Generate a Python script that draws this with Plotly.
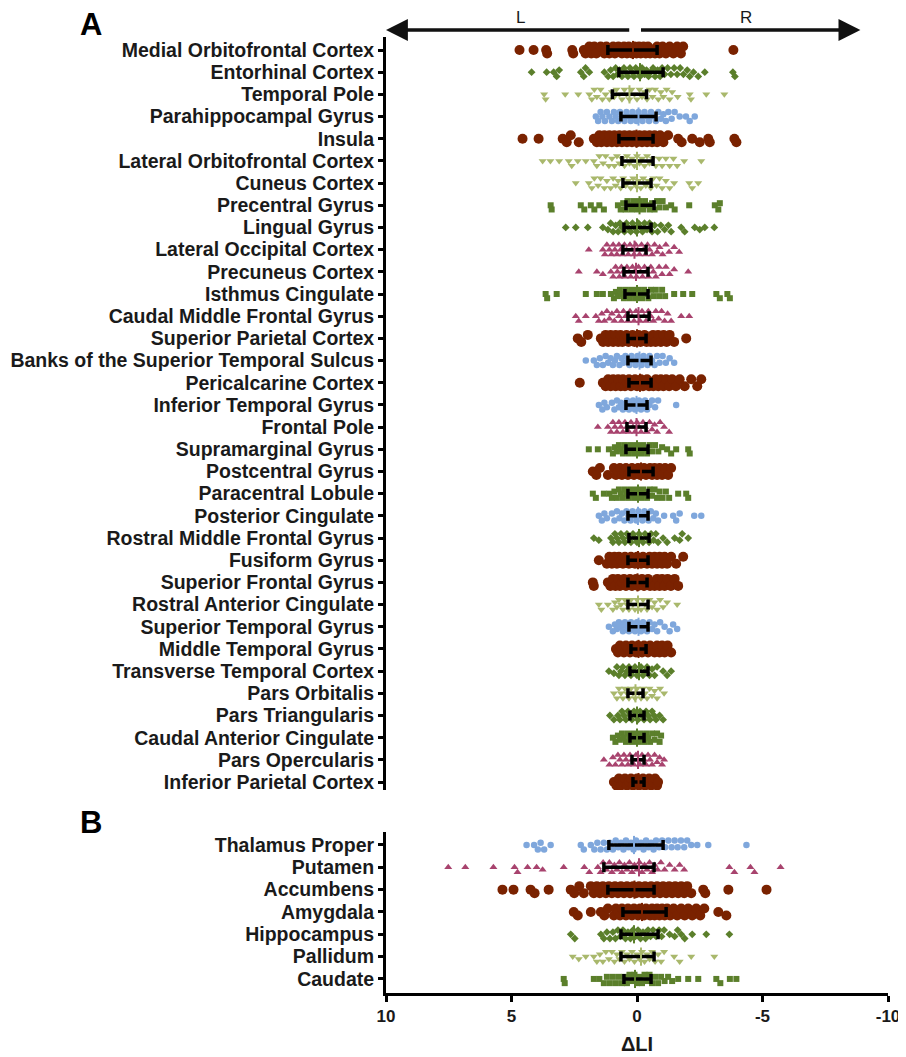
import math
import plotly.graph_objects as go

# ---------------- DATA ----------------
regions_A = [
    "Medial Orbitofrontal Cortex", "Entorhinal Cortex", "Temporal Pole", "Parahippocampal Gyrus",
    "Insula", "Lateral Orbitofrontal Cortex", "Cuneus Cortex", "Precentral Gyrus", "Lingual Gyrus",
    "Lateral Occipital Cortex", "Precuneus Cortex", "Isthmus Cingulate", "Caudal Middle Frontal Gyrus",
    "Superior Parietal Cortex", "Banks of the Superior Temporal Sulcus", "Pericalcarine Cortex",
    "Inferior Temporal Gyrus", "Frontal Pole", "Supramarginal Gyrus", "Postcentral Gyrus",
    "Paracentral Lobule", "Posterior Cingulate", "Rostral Middle Frontal Gyrus", "Fusiform Gyrus",
    "Superior Frontal Gyrus", "Rostral Anterior Cingulate", "Superior Temporal Gyrus",
    "Middle Temporal Gyrus", "Transverse Temporal Cortex", "Pars Orbitalis", "Pars Triangularis",
    "Caudal Anterior Cingulate", "Pars Opercularis", "Inferior Parietal Cortex",
]
style_A = ["red", "dia", "tri_dn", "blue", "red", "tri_dn", "tri_dn", "sq", "dia", "tri_up",
           "tri_up", "sq", "tri_up", "red", "blue", "red", "blue", "tri_up", "sq", "red",
           "sq", "blue", "dia", "red", "red", "tri_dn", "blue", "red", "dia", "tri_dn",
           "dia", "sq", "tri_up", "red"]

values_A = [
    [4.68, 4.12, 3.62, 3.58, 2.58, 2.54, 2.12, 2.05, 1.9, 1.82, 1.7, 1.62, 1.45, 1.3, 1.22, 1.1, 0.95, 0.88,
     0.74, 0.6, 0.52, 0.4, 0.33, 0.2, 0.1, 0.02, -0.08, -0.15, -0.26, -0.35, -0.44, -0.52, -0.6, -0.72,
     -0.8, -0.9, -1.02, -1.15, -1.3, -1.45, -1.6, -1.75, -1.84, -3.84],
    [4.2, 3.6, 3.32, 3.2, 3.1, 2.24, 2.12, 2.05, 1.9, 1.3, 1.15, 1.05, 0.95, 0.85, 0.78, 0.7, 0.6, 0.52,
     0.45, 0.36, 0.28, 0.2, 0.12, 0.05, -0.04, -0.12, -0.2, -0.3, -0.38, -0.46, -0.55, -0.64, -0.72, -0.82,
     -0.92, -1.0, -1.1, -1.22, -1.35, -1.48, -1.6, -1.72, -1.85, -2.0, -2.1, -2.25, -2.44, -2.7, -3.82, -3.9],
    [3.7, 3.64, 2.86, 2.34, 1.9, 1.8, 1.7, 1.6, 1.45, 1.38, 1.25, 1.1, 1.0, 0.9, 0.82, 0.7, 0.6, 0.5, 0.42,
     0.3, 0.22, 0.1, 0.0, -0.1, -0.2, -0.3, -0.4, -0.5, -0.62, -0.72, -0.85, -0.95, -1.05, -1.18, -1.3,
     -1.4, -1.62, -2.1, -2.15, -2.76, -3.48],
    [1.64, 1.55, 1.45, 1.38, 1.28, 1.2, 1.1, 1.0, 0.92, 0.85, 0.75, 0.68, 0.6, 0.5, 0.42, 0.35, 0.25, 0.18,
     0.1, 0.02, -0.06, -0.14, -0.22, -0.3, -0.4, -0.48, -0.56, -0.66, -0.75, -0.85, -0.95, -1.05, -1.15,
     -1.25, -1.38, -1.5, -1.7, -1.95, -2.1, -2.3],
    [4.56, 3.92, 2.96, 2.8, 2.64, 2.32, 1.72, 1.6, 1.5, 1.42, 1.3, 1.2, 1.1, 1.0, 0.9, 0.8, 0.7, 0.6, 0.5,
     0.4, 0.3, 0.2, 0.1, 0.0, -0.1, -0.2, -0.3, -0.4, -0.5, -0.6, -0.7, -0.8, -0.92, -1.05, -1.24, -1.64,
     -1.78, -2.2, -2.5, -2.84, -2.9, -3.88, -3.96],
    [3.76, 3.45, 3.1, 2.72, 2.6, 2.36, 2.04, 1.72, 1.6, 1.5, 1.35, 1.25, 1.12, 1.0, 0.9, 0.8, 0.7, 0.6, 0.5,
     0.4, 0.3, 0.2, 0.1, 0.0, -0.1, -0.2, -0.3, -0.4, -0.5, -0.62, -0.75, -0.88, -1.0, -1.15, -1.3, -1.45,
     -1.6, -1.88, -2.56],
    [2.44, 1.92, 1.8, 1.7, 1.55, 1.45, 1.3, 1.2, 1.05, 0.95, 0.85, 0.75, 0.65, 0.55, 0.45, 0.35, 0.25, 0.15,
     0.05, -0.05, -0.15, -0.25, -0.35, -0.45, -0.55, -0.65, -0.78, -0.9, -1.0, -1.15, -1.3, -1.48, -2.08,
     -2.2, -2.44],
    [3.44, 3.4, 2.24, 2.1, 1.84, 1.7, 1.5, 1.32, 0.76, 0.65, 0.55, 0.45, 0.38, 0.3, 0.22, 0.15, 0.08, 0.0,
     -0.08, -0.16, -0.24, -0.32, -0.4, -0.5, -0.6, -0.7, -0.8, -0.9, -1.02, -1.15, -1.36, -1.5, -2.08, -3.1,
     -3.24, -3.3],
    [2.84, 2.44, 1.96, 1.36, 1.16, 1.05, 0.95, 0.85, 0.75, 0.68, 0.6, 0.5, 0.42, 0.35, 0.25, 0.18, 0.1,
     0.02, -0.06, -0.14, -0.22, -0.3, -0.4, -0.5, -0.6, -0.7, -0.82, -0.95, -1.1, -1.25, -1.36, -1.76, -1.9,
     -2.3, -2.5, -2.7, -3.08],
    [1.92, 1.36, 1.28, 1.2, 1.1, 1.02, 0.95, 0.88, 0.8, 0.72, 0.65, 0.58, 0.5, 0.42, 0.35, 0.28, 0.2, 0.12,
     0.05, -0.02, -0.1, -0.18, -0.26, -0.34, -0.42, -0.5, -0.6, -0.7, -0.8, -0.9, -1.02, -1.15, -1.28,
     -1.48, -1.68],
    [2.32, 1.6, 1.36, 1.04, 0.95, 0.85, 0.78, 0.7, 0.62, 0.55, 0.48, 0.4, 0.32, 0.25, 0.18, 0.1, 0.02,
     -0.06, -0.14, -0.22, -0.3, -0.38, -0.46, -0.55, -0.65, -0.75, -0.88, -1.0, -1.15, -1.3, -1.48, -2.04],
    [3.64, 3.58, 3.2, 2.04, 1.6, 1.36, 1.04, 0.92, 0.84, 0.76, 0.68, 0.6, 0.52, 0.44, 0.36, 0.28, 0.2, 0.12,
     0.04, -0.04, -0.12, -0.2, -0.28, -0.36, -0.45, -0.55, -0.65, -0.75, -0.88, -1.0, -1.12, -1.48, -1.84,
     -2.2, -3.16, -3.3, -3.6, -3.7],
    [2.44, 2.32, 2.04, 1.64, 1.52, 1.4, 1.3, 1.2, 1.1, 1.0, 0.9, 0.8, 0.72, 0.62, 0.54, 0.45, 0.36, 0.28,
     0.2, 0.12, 0.04, -0.04, -0.12, -0.2, -0.28, -0.36, -0.45, -0.55, -0.65, -0.75, -0.86, -0.98, -1.1,
     -1.22, -1.36, -1.76, -2.08],
    [2.36, 2.22, 1.96, 1.44, 1.35, 1.25, 1.15, 1.05, 0.95, 0.85, 0.75, 0.66, 0.58, 0.5, 0.42, 0.34, 0.26,
     0.18, 0.1, 0.02, -0.06, -0.14, -0.22, -0.3, -0.38, -0.46, -0.55, -0.64, -0.74, -0.84, -0.95, -1.06,
     -1.18, -1.3, -1.48, -1.96],
    [2.04, 1.72, 1.6, 1.48, 1.36, 1.25, 1.15, 1.05, 0.96, 0.88, 0.8, 0.7, 0.62, 0.54, 0.46, 0.38, 0.3, 0.22,
     0.14, 0.06, -0.02, -0.1, -0.18, -0.26, -0.34, -0.42, -0.5, -0.6, -0.7, -0.8, -0.9, -1.02, -1.15, -1.3,
     -1.48],
    [2.28, 1.36, 1.25, 1.15, 1.05, 0.95, 0.85, 0.75, 0.65, 0.56, 0.48, 0.4, 0.32, 0.24, 0.16, 0.08, 0.0,
     -0.08, -0.16, -0.24, -0.32, -0.4, -0.48, -0.56, -0.65, -0.75, -0.85, -0.95, -1.05, -1.16, -1.28, -1.4,
     -1.55, -1.7, -1.9, -2.16, -2.4, -2.56],
    [1.52, 1.38, 1.3, 1.2, 1.0, 0.9, 0.8, 0.72, 0.64, 0.56, 0.48, 0.4, 0.32, 0.24, 0.16, 0.08, 0.0, -0.08,
     -0.16, -0.24, -0.32, -0.4, -0.5, -0.6, -0.72, -0.84, -1.56],
    [1.56, 1.16, 1.04, 0.96, 0.88, 0.8, 0.72, 0.64, 0.56, 0.48, 0.4, 0.32, 0.24, 0.16, 0.08, 0.0, -0.08,
     -0.16, -0.24, -0.32, -0.4, -0.5, -0.6, -0.7, -0.8, -0.92, -1.08, -1.28],
    [1.92, 1.56, 1.12, 0.96, 0.88, 0.8, 0.72, 0.64, 0.56, 0.48, 0.4, 0.32, 0.24, 0.16, 0.08, 0.0, -0.08,
     -0.16, -0.24, -0.32, -0.4, -0.5, -0.6, -0.72, -0.85, -1.0, -1.2, -1.36, -1.56, -2.04, -2.1],
    [1.76, 1.62, 1.48, 1.16, 0.92, 0.84, 0.76, 0.68, 0.6, 0.52, 0.44, 0.36, 0.28, 0.2, 0.12, 0.04, -0.04,
     -0.12, -0.2, -0.28, -0.36, -0.44, -0.52, -0.6, -0.7, -0.8, -0.9, -1.0, -1.12, -1.24, -1.36],
    [1.76, 1.64, 1.32, 1.1, 1.0, 0.9, 0.8, 0.72, 0.64, 0.56, 0.48, 0.4, 0.32, 0.24, 0.16, 0.08, 0.0, -0.08,
     -0.16, -0.24, -0.32, -0.4, -0.5, -0.6, -0.7, -0.8, -0.9, -1.02, -1.15, -1.28, -1.64, -1.96, -2.04],
    [1.52, 1.4, 1.3, 1.2, 1.0, 0.9, 0.8, 0.7, 0.6, 0.5, 0.42, 0.34, 0.26, 0.18, 0.1, 0.02, -0.06, -0.14,
     -0.22, -0.3, -0.38, -0.46, -0.55, -0.65, -0.75, -0.84, -1.08, -1.44, -1.56, -1.7, -2.28, -2.56],
    [1.72, 1.52, 1.04, 0.96, 0.88, 0.8, 0.72, 0.64, 0.56, 0.48, 0.4, 0.32, 0.24, 0.16, 0.08, 0.0, -0.08,
     -0.16, -0.24, -0.32, -0.4, -0.48, -0.56, -0.66, -0.75, -0.84, -1.04, -1.2, -1.5, -1.7, -1.8, -2.04],
    [1.52, 1.2, 1.1, 1.0, 0.9, 0.8, 0.72, 0.64, 0.56, 0.48, 0.4, 0.32, 0.24, 0.16, 0.08, 0.0, -0.08, -0.16,
     -0.24, -0.32, -0.4, -0.5, -0.6, -0.7, -0.8, -0.9, -1.0, -1.1, -1.2, -1.36, -1.56, -1.84],
    [1.76, 1.72, 1.16, 1.06, 0.96, 0.86, 0.76, 0.68, 0.6, 0.52, 0.44, 0.36, 0.28, 0.2, 0.12, 0.04, -0.04,
     -0.12, -0.2, -0.28, -0.36, -0.44, -0.52, -0.6, -0.7, -0.8, -0.9, -1.0, -1.1, -1.22, -1.35, -1.5, -1.64],
    [1.52, 1.42, 1.16, 0.96, 0.88, 0.8, 0.72, 0.64, 0.56, 0.48, 0.4, 0.32, 0.24, 0.16, 0.08, 0.0, -0.08,
     -0.16, -0.24, -0.32, -0.4, -0.5, -0.6, -0.7, -0.8, -0.92, -1.04, -1.2, -1.6],
    [1.12, 0.96, 0.88, 0.8, 0.72, 0.64, 0.56, 0.48, 0.4, 0.32, 0.24, 0.16, 0.08, 0.0, -0.08, -0.16, -0.24,
     -0.32, -0.4, -0.5, -0.6, -0.7, -0.8, -0.92, -1.1, -1.3, -1.44, -1.6],
    [0.84, 0.76, 0.68, 0.6, 0.52, 0.44, 0.36, 0.28, 0.2, 0.12, 0.04, -0.04, -0.12, -0.2, -0.28, -0.36,
     -0.44, -0.52, -0.6, -0.7, -0.8, -0.9, -1.0, -1.1, -1.22, -1.36],
    [1.12, 0.92, 0.8, 0.72, 0.64, 0.56, 0.48, 0.4, 0.32, 0.24, 0.16, 0.08, 0.0, -0.08, -0.16, -0.24, -0.32,
     -0.4, -0.5, -0.6, -0.7, -0.8, -1.04, -1.2, -1.36],
    [0.92, 0.8, 0.72, 0.64, 0.56, 0.48, 0.4, 0.32, 0.24, 0.16, 0.08, 0.0, -0.08, -0.16, -0.24, -0.32, -0.4,
     -0.5, -0.6, -0.7, -0.8, -0.92, -1.08],
    [1.08, 0.92, 0.76, 0.68, 0.6, 0.52, 0.44, 0.36, 0.28, 0.2, 0.12, 0.04, -0.04, -0.12, -0.2, -0.28, -0.36,
     -0.44, -0.52, -0.6, -0.68, -0.76, -0.9, -1.04],
    [0.96, 0.86, 0.76, 0.68, 0.6, 0.52, 0.44, 0.36, 0.28, 0.2, 0.12, 0.04, -0.04, -0.12, -0.2, -0.28, -0.36,
     -0.44, -0.52, -0.6, -0.7, -0.8, -0.9, -0.96],
    [1.32, 1.1, 0.96, 0.86, 0.76, 0.68, 0.6, 0.52, 0.44, 0.36, 0.28, 0.2, 0.12, 0.04, -0.04, -0.12, -0.2,
     -0.28, -0.36, -0.44, -0.52, -0.6, -0.7, -0.8, -0.9, -1.0, -1.08],
    [0.92, 0.82, 0.72, 0.64, 0.56, 0.48, 0.4, 0.32, 0.24, 0.16, 0.08, 0.0, -0.08, -0.16, -0.24, -0.32,
     -0.4, -0.48, -0.56, -0.64, -0.72, -0.8, -0.84],
]
center_A = [0.16, -0.12, 0.3, -0.06, 0.02, 0.0, 0.0, -0.1, 0.0, 0.1, 0.04, 0.0, -0.06, 0.0, -0.1, -0.12,
            0.02, 0.02, 0.0, -0.16, -0.04, -0.04, -0.08, -0.04, -0.02, -0.04, -0.06, -0.06, -0.08, 0.06,
            0.0, 0.0, -0.04, -0.06]
bar_hi_A = [1.16, 0.72, 0.98, 0.64, 0.72, 0.6, 0.56, 0.44, 0.52, 0.56, 0.52, 0.48, 0.36, 0.36, 0.36, 0.32,
            0.44, 0.4, 0.44, 0.32, 0.36, 0.36, 0.32, 0.36, 0.36, 0.36, 0.32, 0.24, 0.28, 0.36, 0.28, 0.28,
            0.2, 0.16]
bar_lo_A = [-0.8, -1.04, -0.38, -0.76, -0.64, -0.64, -0.56, -0.68, -0.56, -0.36, -0.44, -0.44, -0.48, -0.36,
            -0.56, -0.56, -0.4, -0.36, -0.44, -0.64, -0.44, -0.44, -0.48, -0.44, -0.4, -0.44, -0.44, -0.36,
            -0.44, -0.24, -0.28, -0.28, -0.28, -0.28]

regions_B = ["Thalamus Proper", "Putamen", "Accumbens", "Amygdala", "Hippocampus", "Pallidum", "Caudate"]
style_B = ["blue", "tri_up", "red", "red", "dia", "tri_dn", "sq"]
values_B = [
    [4.4, 4.1, 3.95, 3.84, 3.7, 3.44, 2.24, 2.12, 1.84, 1.7, 1.58, 1.45, 1.32, 1.2, 1.08, 0.96, 0.85, 0.75,
     0.64, 0.54, 0.44, 0.34, 0.24, 0.14, 0.04, -0.06, -0.16, -0.26, -0.36, -0.46, -0.56, -0.66, -0.76,
     -0.88, -1.0, -1.12, -1.25, -1.38, -1.5, -1.62, -1.75, -1.88, -2.0, -2.16, -2.4, -2.84, -4.36],
    [7.52, 6.84, 5.72, 4.88, 4.76, 4.36, 4.0, 3.76, 2.92, 2.1, 1.9, 1.56, 1.45, 1.35, 1.22, 1.1, 1.0, 0.9,
     0.8, 0.7, 0.6, 0.5, 0.4, 0.3, 0.2, 0.1, 0.0, -0.1, -0.2, -0.3, -0.4, -0.5, -0.6, -0.7, -0.82, -0.95,
     -1.1, -1.3, -1.5, -1.7, -1.88, -3.68, -3.88, -4.52, -4.68, -5.72],
    [5.36, 4.92, 4.24, 4.08, 3.52, 2.64, 2.5, 2.3, 2.12, 1.84, 1.72, 1.6, 1.48, 1.36, 1.24, 1.12, 1.0, 0.88,
     0.76, 0.64, 0.52, 0.4, 0.28, 0.16, 0.04, -0.08, -0.2, -0.32, -0.44, -0.56, -0.68, -0.8, -0.92, -1.04,
     -1.16, -1.28, -1.4, -1.52, -1.64, -1.76, -1.88, -2.0, -2.16, -2.64, -2.72, -3.64, -5.16],
    [2.52, 2.36, 1.84, 1.44, 1.3, 1.16, 0.92, 0.84, 0.76, 0.68, 0.6, 0.52, 0.44, 0.36, 0.28, 0.2, 0.12,
     0.04, -0.04, -0.12, -0.2, -0.28, -0.36, -0.44, -0.52, -0.6, -0.7, -0.8, -0.9, -1.0, -1.1, -1.2, -1.32,
     -1.46, -1.6, -1.76, -1.9, -2.04, -2.2, -2.36, -2.52, -2.68, -3.24, -3.56],
    [2.64, 2.48, 1.44, 1.32, 1.2, 1.08, 0.96, 0.86, 0.76, 0.66, 0.56, 0.46, 0.36, 0.26, 0.16, 0.06, -0.04,
     -0.14, -0.24, -0.34, -0.44, -0.54, -0.64, -0.76, -0.88, -0.98, -1.08, -1.3, -1.5, -1.62, -1.76, -1.9,
     -2.2, -2.76, -3.68],
    [2.56, 2.32, 2.04, 1.72, 1.6, 1.48, 1.36, 1.24, 1.12, 1.0, 0.9, 0.8, 0.7, 0.6, 0.5, 0.4, 0.3, 0.2, 0.1,
     0.0, -0.1, -0.2, -0.3, -0.4, -0.5, -0.6, -0.72, -0.84, -0.96, -1.08, -1.48, -1.7, -2.16, -3.08],
    [2.92, 2.88, 1.72, 1.5, 1.32, 1.2, 1.08, 0.96, 0.84, 0.72, 0.6, 0.5, 0.4, 0.3, 0.2, 0.1, 0.0, -0.1,
     -0.2, -0.3, -0.4, -0.5, -0.6, -0.72, -0.84, -0.96, -1.1, -1.24, -1.4, -1.64, -2.04, -2.44, -3.16,
     -3.32, -3.7, -3.96],
]
center_B = [0.12, -0.08, 0.1, -0.2, 0.12, -0.16, 0.08]
bar_hi_B = [1.12, 1.32, 1.16, 0.56, 0.64, 0.64, 0.52]
bar_lo_B = [-1.04, -0.68, -0.68, -1.16, -0.84, -0.68, -0.56]

x_ticks = [10, 5, 0, -5, -10]

# ---------------- STYLE ----------------
STYLES = {
    "red":    dict(symbol="circle", size=10, color="#7a2200"),
    "dia":    dict(symbol="diamond", size=6, color="#5b7f2b"),
    "sq":     dict(symbol="square", size=6, color="#5b7f2b"),
    "tri_dn": dict(symbol="triangle-down", size=7, color="#a9b86c"),
    "tri_up": dict(symbol="triangle-up", size=7, color="#a8436e"),
    "blue":   dict(symbol="circle", size=6.5, color="#7fa7dc"),
}

FONT = "Liberation Sans, Arial, sans-serif"
PX_X = 25.1  # pixels per x unit


def swarm(vals, d_px, px_y, max_px=5.0):
    placed = []
    offs = []
    step = max(d_px * 0.35, 1.5)
    cands = [0.0]
    k = 1
    while k * step <= max_px + 1e-9:
        cands += [k * step, -k * step]
        k += 1
    for v in vals:
        xp = v * PX_X
        best, bestd = 0.0, -1.0
        for c in cands:
            md = float("inf")
            for (qx, qy) in placed:
                if abs(xp - qx) < d_px:
                    md = min(md, math.hypot(xp - qx, c - qy))
            if md >= d_px * 0.9:
                best = c
                break
            if md > bestd:
                bestd, best = md, c
        placed.append((xp, best))
        offs.append(best / px_y)
    return offs


fig = go.Figure()


def add_panel(values, styles, centers, his, los, xa, ya, px_y):
    groups = {}
    for i, (vals, st) in enumerate(zip(values, styles)):
        offs = swarm(vals, STYLES[st]["size"], px_y)
        g = groups.setdefault(st, ([], []))
        g[0].extend(vals)
        g[1].extend([i + o for o in offs])
    for st, (xs, ys) in groups.items():
        s = STYLES[st]
        fig.add_trace(go.Scatter(
            x=xs, y=ys, mode="markers", xaxis=xa, yaxis=ya, showlegend=False, hoverinfo="skip",
            marker=dict(symbol=s["symbol"], size=s["size"], color=s["color"], line=dict(width=0)),
        ))
    rows = list(range(len(values)))
    fig.add_trace(go.Scatter(
        x=centers, y=rows, mode="markers", xaxis=xa, yaxis=ya, showlegend=False, hoverinfo="skip",
        marker=dict(size=1, color="rgba(0,0,0,0)"),
        error_x=dict(type="data", symmetric=False,
                     array=[h - c for h, c in zip(his, centers)],
                     arrayminus=[c - l for c, l in zip(centers, los)],
                     color="black", thickness=3.5, width=5),
    ))
    for st in groups:
        idx = [i for i in rows if styles[i] == st]
        fig.add_trace(go.Scatter(
            x=[centers[i] for i in idx], y=idx, mode="markers", xaxis=xa, yaxis=ya,
            showlegend=False, hoverinfo="skip",
            marker=dict(symbol="line-ns", size=13, line=dict(width=2, color=STYLES[st]["color"])),
        ))


add_panel(values_A, style_A, center_A, bar_hi_A, bar_lo_A, "x", "y", 22.18)
add_panel(values_B, style_B, center_B, bar_hi_B, bar_lo_B, "x2", "y2", 22.33)

tickfont = dict(family=FONT, size=19.5, color="#1a1a1a", weight="bold")

yaxis_common = dict(showline=True, linewidth=3, linecolor="black", ticks="outside", ticklen=5,
                    tickwidth=2.5, tickcolor="black", showgrid=False, zeroline=False, tickfont=tickfont,
                    fixedrange=True, automargin=False)

# the page body adds an 8px offset; the figure is sized so the plot lands where the reference has it
fig.update_layout(
    template="none",
    width=898, height=1049,
    margin=dict(l=378, r=18, t=29, b=64),
    plot_bgcolor="white", paper_bgcolor="white",
    xaxis=dict(domain=[0, 1], anchor="y", range=[10, -10], visible=False, showgrid=False, zeroline=False,
               automargin=False),
    yaxis=dict(domain=[0.2123, 1], anchor="x", range=[33.36, -0.586],
               tickmode="array", tickvals=list(range(len(regions_A))), ticktext=regions_A, **yaxis_common),
    xaxis2=dict(domain=[0, 1], anchor="y2", range=[10, -10], showline=True, linewidth=3,
                linecolor="black", ticks="outside", ticklen=6, tickwidth=3, tickcolor="black",
                tickmode="array", tickvals=x_ticks, ticktext=[str(t) for t in x_ticks],
                showgrid=False, zeroline=False, automargin=False,
                tickfont=dict(family=FONT, size=17, color="#1a1a1a", weight="bold"),
                title=dict(text="ΔLI", standoff=12,
                           font=dict(family=FONT, size=20, color="#1a1a1a", weight="bold"))),
    yaxis2=dict(domain=[0, 0.1684], anchor="x2", range=[6.63, -0.582],
                tickmode="array", tickvals=list(range(len(regions_B))), ticktext=regions_B, **yaxis_common),
)

# L / R arrows at the top of panel A
arrow_y = 1.0073
for tip, tail in [(10, 0.25), (-8.9, -0.1)]:
    fig.add_annotation(x=tip, y=arrow_y, xref="x", yref="paper", ax=tail, ay=0, axref="x", ayref="pixel",
                       text="", showarrow=True, arrowhead=2, arrowsize=1.25, arrowwidth=3.5,
                       arrowcolor="#111111")
for lab, xv in [("L", 4.64), ("R", -4.36)]:
    fig.add_annotation(x=xv, y=1.0199, xref="x", yref="paper", text=lab, showarrow=False,
                       xanchor="center", yanchor="middle",
                       font=dict(family=FONT, size=17, color="#1a1a1a"))

for lab, yv in [("A", 1.0136), ("B", 0.1789)]:
    fig.add_annotation(x=-0.588, y=yv, xref="paper", yref="paper", text=lab, showarrow=False,
                       xanchor="center", yanchor="middle", height=30, valign="middle",
                       font=dict(family=FONT, size=31, color="black", weight="bold"))

fig.write_html("out.html")
